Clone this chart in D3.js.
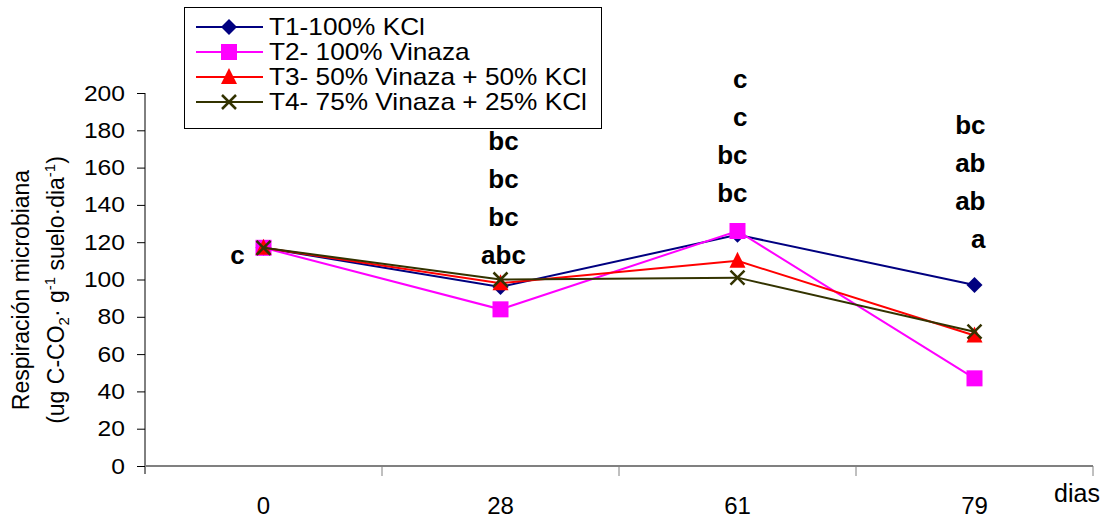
<!DOCTYPE html>
<html>
<head>
<meta charset="utf-8">
<script src="https://cdn.jsdelivr.net/npm/d3@7"></script>
<style>
  body { margin: 0; background: #fff; }
  svg { font-family: "Liberation Sans", Arial, sans-serif; }
</style>
</head>
<body>
<svg id="chart" width="1110" height="520"></svg>
<script>
const dias = ["0", "28", "61", "79"];
const t1 = [117, 96, 124, 97];
const t2 = [117, 84, 126, 47];
const t3 = [117, 98, 110, 70];
const t4 = [117, 100, 101, 72];
const seriesNames = ["T1-100% KCl", "T2- 100% Vinaza", "T3- 50% Vinaza + 50% KCl", "T4- 75% Vinaza + 25% KCl"];
const yTicks = [0, 20, 40, 60, 80, 100, 120, 140, 160, 180, 200];
// letras de significancia por fecha (de arriba hacia abajo)
const letras = [["c"], ["bc", "bc", "bc", "abc"], ["c", "c", "bc", "bc"], ["bc", "ab", "ab", "a"]];

const colors = ["#000080", "#ff00ff", "#ff0000", "#333300"];
const shapes = ["diamond", "square", "triangle", "cross"];

const svg = d3.select("#chart");
const mLeft = 145, mRight = 1093, mTop = 93, mBottom = 466;

const x = d3.scaleBand().domain(dias).range([mLeft, mRight]).padding(0);
const y = d3.scaleLinear().domain([0, 200]).range([mBottom, mTop]);
const cx = d => x(d) + x.bandwidth() / 2;

// eje y
const yAxis = svg.append("g")
  .attr("transform", `translate(${mLeft},0)`)
  .call(d3.axisLeft(y).tickValues(yTicks).tickSize(8).tickPadding(12));
yAxis.select(".domain").attr("stroke", "#000").attr("d", `M0,${mTop}V${mBottom + 8}`);
yAxis.selectAll(".tick line").attr("stroke", "#000");
yAxis.selectAll(".tick text").attr("font-size", 22).attr("fill", "#000")
  .attr("transform", "scale(1.12,1)")
  .attr("x", -20 / 1.12);

// eje x
const xg = svg.append("g");
xg.append("line").attr("x1", mLeft).attr("x2", mRight).attr("y1", mBottom).attr("y2", mBottom)
  .attr("stroke", "#808080").attr("stroke-width", 2);
xg.selectAll(".xt").data(dias.slice(1).concat([null])).enter().append("line")
  .attr("x1", d => d === null ? mRight : x(d)).attr("x2", d => d === null ? mRight : x(d))
  .attr("y1", mBottom).attr("y2", mBottom + 10).attr("stroke", "#808080");
xg.selectAll(".xl").data(dias).enter().append("text")
  .attr("x", d => cx(d)).attr("y", 514)
  .attr("text-anchor", "middle").attr("font-size", 24).text(d => d);
svg.append("text").attr("x", 1077).attr("y", 502).attr("text-anchor", "middle")
  .attr("font-size", 25).text("dias");

// titulo eje y
const yt = svg.append("g").attr("transform", "translate(0,290) rotate(-90)");
yt.append("text").attr("x", 0).attr("y", 29).attr("text-anchor", "middle")
  .attr("font-size", 23).text("Respiración microbiana");
const t2l = yt.append("text").attr("x", 0).attr("y", 64).attr("text-anchor", "middle").attr("font-size", 23);
t2l.append("tspan").text("(ug C-CO");
t2l.append("tspan").attr("font-size", 15).attr("dy", 5).text("2");
t2l.append("tspan").attr("dy", -5).text("· g");
t2l.append("tspan").attr("font-size", 15).attr("dy", -9).text("-1");
t2l.append("tspan").attr("dy", 9).text(" suelo·dia");
t2l.append("tspan").attr("font-size", 15).attr("dy", -9).text("-1");
t2l.append("tspan").attr("dy", 9).text(")");

function marker(g, shape, color) {
  if (shape === "diamond") {
    g.append("path").attr("d", "M0,-8L8,0L0,8L-8,0Z").attr("fill", color);
  } else if (shape === "square") {
    g.append("rect").attr("x", -8).attr("y", -8).attr("width", 16).attr("height", 16).attr("fill", color);
  } else if (shape === "triangle") {
    g.append("path").attr("d", "M0,-9L8,7L-8,7Z").attr("fill", color);
  } else {
    g.append("path").attr("d", "M-7,-7L7,7M-7,7L7,-7").attr("stroke", color).attr("stroke-width", 2.5);
  }
}

const allSeries = [t1, t2, t3, t4];
const line = d3.line().x((d, i) => cx(dias[i])).y(d => y(d));
allSeries.forEach((vals, s) => {
  const g = svg.append("g");
  g.append("path").datum(vals).attr("d", line).attr("fill", "none")
    .attr("stroke", colors[s]).attr("stroke-width", 2);
  vals.forEach((v, i) => {
    const m = g.append("g").attr("transform", `translate(${cx(dias[i])},${y(v)})`);
    marker(m, shapes[s], colors[s]);
  });
});

// letras
const letraLayout = [
  { anchor: "middle", dx: -26, base: 264 },
  { anchor: "middle", dx: 3, base: 264 },
  { anchor: "end", dx: 10, base: 202 },
  { anchor: "end", dx: 11, base: 248 }
];
letras.forEach((arr, i) => {
  const lay = letraLayout[i];
  arr.forEach((t, k) => {
    svg.append("text")
      .attr("x", cx(dias[i]) + lay.dx)
      .attr("y", lay.base - (arr.length - 1 - k) * 38)
      .attr("text-anchor", lay.anchor)
      .attr("font-size", 26).attr("font-weight", "bold").text(t);
  });
});

// leyenda
const lg = svg.append("g");
lg.append("rect").attr("x", 184.5).attr("y", 7.5).attr("width", 417).attr("height", 121)
  .attr("fill", "#fff").attr("stroke", "#000");
seriesNames.forEach((name, s) => {
  const ly = 27 + s * 25;
  lg.append("line").attr("x1", 196).attr("x2", 263).attr("y1", ly).attr("y2", ly)
    .attr("stroke", colors[s]).attr("stroke-width", 2);
  marker(lg.append("g").attr("transform", `translate(229,${ly})`), shapes[s], colors[s]);
  lg.append("text").attr("transform", `translate(269,${ly}) scale(1.14,1)`)
    .attr("dy", "0.35em").attr("font-size", 23).text(name);
});
</script>
</body>
</html>
